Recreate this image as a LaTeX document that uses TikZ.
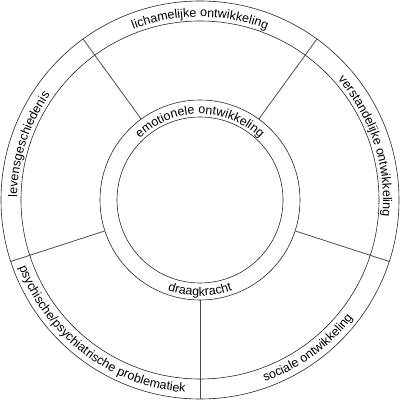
\documentclass[tikz,border=0pt]{standalone}
\usepackage{fontspec}
\newfontfamily\lab{Liberation Sans}
\usetikzlibrary{decorations.text}
\begin{document}
\begin{tikzpicture}[x=1pt,y=1pt,
  ring/.style={draw=black!85, line width=0.6pt},
  divider/.style={draw=black!70, line width=0.8pt},
  arctext/.style={decorate, decoration={text along path, text align=center,
     text={|\lab\fontsize{12.5}{14}\selectfont|#1}}}]
\useasboundingbox (0,0) rectangle (400,400);
\begin{scope}[shift={(200,200)}]
  \draw[ring] (0,0) circle[radius=199];
  \draw[ring] (0,0) circle[radius=179];
  \draw[ring] (0,0) circle[radius=100];
  \draw[ring] (0,0) circle[radius=83];
  \foreach \a in {54,126,198,270,342}{
    \coordinate (i\a) at (\a:100);
    \coordinate (o\a) at (\a:199);
    \draw[divider] (i\a) -- (o\a);
  }
  % outer band, clockwise (tops outward)
  \path[arctext={lichamelijke ontwikkeling}] (150:183) arc[start angle=150, end angle=30, radius=183];
  \path[arctext={verstandelijke ontwikkeling}] (78:183) arc[start angle=78, end angle=-42, radius=183];
  \path[arctext={levensgeschiedenis}] (222:183) arc[start angle=222, end angle=102, radius=183];
  % outer band, counterclockwise (tops inward)
  \path[arctext={sociale ontwikkeling}] (246:193) arc[start angle=246, end angle=366, radius=193];
  \path[arctext={psychische/psychiatrische problematiek}] (173:193) arc[start angle=173, end angle=293, radius=193];
  % inner ring
  \path[arctext={emotionele ontwikkeling}] (170:86) arc[start angle=170, end angle=10, radius=86];
  \path[arctext={draagkracht}] (200:96) arc[start angle=200, end angle=340, radius=96];
\end{scope}
\end{tikzpicture}
\end{document}
